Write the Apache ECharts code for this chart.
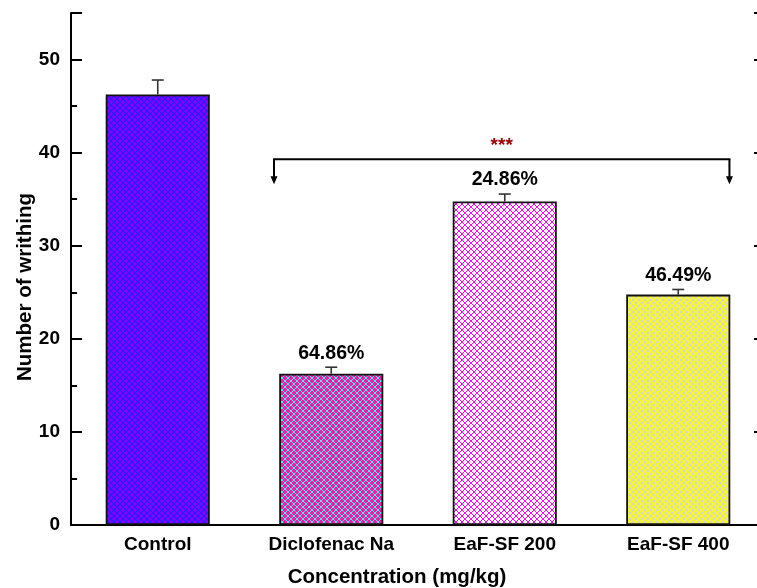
<!DOCTYPE html>
<html>
<head>
<meta charset="utf-8">
<script src="https://cdn.jsdelivr.net/npm/echarts@6/dist/echarts.min.js"></script>
<style>
  html, body { margin: 0; padding: 0; background: #fff; overflow: hidden; }
  #chart { width: 757px; height: 588px; }
</style>
</head>
<body>
<div id="chart"></div>
<script>
// Writhing counts per treatment group (mean, SEM) and inhibition percentages
const categories = ['Control', 'Diclofenac Na', 'EaF-SF 200', 'EaF-SF 400'];
const writhing = [46.25, 16.25, 34.75, 24.75];
const sem = [1.55, 0.7, 0.8, 0.55];
const inhibition = ['', '64.86%', '24.86%', '46.49%'];
const yTicks = [0, 10, 20, 30, 40, 50];

// Significance bracket (category index span, level and arrow tip in y units)
const bracketSpan = [1, 3];
const bracketLevel = 39.3;
const bracketTip = 36.6;
const bracketText = '***';

const FONT = 'Arial, "Liberation Sans", sans-serif';

// Smooth diagonal crosshatch tile
function hatch(bg, fg, lw) {
  const s = 6;
  const c = document.createElement('canvas');
  c.width = s; c.height = s;
  const g = c.getContext('2d');
  if (bg) { g.fillStyle = bg; g.fillRect(0, 0, s, s); }
  g.strokeStyle = fg;
  g.lineWidth = lw;
  g.beginPath();
  g.moveTo(-1, -1); g.lineTo(s + 1, s + 1);
  g.moveTo(s + 1, -1); g.lineTo(-1, s + 1);
  g.stroke();
  return { image: c, repeat: 'repeat' };
}

// Pixel-crisp diagonal crosshatch tile (1px lines)
function hatchCrisp(bg, fg) {
  const s = 6;
  const c = document.createElement('canvas');
  c.width = s; c.height = s;
  const g = c.getContext('2d');
  g.fillStyle = bg; g.fillRect(0, 0, s, s);
  g.fillStyle = fg;
  for (let y = 0; y < s; y++) {
    for (let x = 0; x < s; x++) {
      if ((x - y + s) % s === 0 || (x + y) % s === s - 1) g.fillRect(x, y, 1, 1);
    }
  }
  return { image: c, repeat: 'repeat' };
}

const fills = [
  hatch('#8C00FF', '#1E1EFF', 1.1),
  hatchCrisp('#FF18A0', '#40F0FF'),
  hatchCrisp('#FFFFFF', '#FF00FF'),
  hatch('#D6D6D6', '#FFFF00', 1.4)
];

const chart = echarts.init(document.getElementById('chart'), null, { renderer: 'canvas' });

const option = {
  animation: false,
  backgroundColor: '#fff',
  grid: { left: 71, right: -8, top: 13, bottom: 63, containLabel: false, outerBoundsMode: 'none' },
  xAxis: [{
    type: 'category',
    data: categories,
    position: 'bottom',
    name: 'Concentration (mg/kg)',
    nameLocation: 'middle',
    nameGap: 42,
    nameMoveOverlap: false,
    nameTextStyle: { fontFamily: FONT, fontWeight: 'bold', fontSize: 20.5, color: '#000', padding: [0, 42, 0, 0] },
    axisLine: { show: true, lineStyle: { color: '#000', width: 2 } },
    axisTick: { show: true, inside: true, length: 10, alignWithLabel: true, lineStyle: { color: '#000', width: 2 } },
    axisLabel: { fontFamily: FONT, fontWeight: 'bold', fontSize: 19, color: '#000', margin: 10 },
    splitLine: { show: false }
  }, {
    type: 'category',
    data: categories,
    position: 'top',
    axisLine: { show: true, lineStyle: { color: '#000', width: 2 } },
    axisTick: { show: false },
    axisLabel: { show: false },
    splitLine: { show: false }
  }],
  yAxis: [{
    type: 'value',
    min: 0, max: 55, interval: 10,
    name: 'Number of writhing',
    nameLocation: 'middle',
    nameGap: 35,
    nameMoveOverlap: false,
    nameTextStyle: { fontFamily: FONT, fontWeight: 'bold', fontSize: 20.5, color: '#000', padding: [0, 36, 0, 0] },
    axisLine: { show: true, lineStyle: { color: '#000', width: 2 } },
    axisTick: { show: true, inside: true, length: 11, lineStyle: { color: '#000', width: 2 } },
    minorTick: { show: true, splitNumber: 2, length: 6, lineStyle: { color: '#000', width: 2 } },
    axisLabel: {
      fontFamily: FONT, fontWeight: 'bold', fontSize: 19, color: '#000', margin: 11,
      showMaxLabel: false,
      formatter: v => (yTicks.indexOf(v) >= 0 ? String(v) : '')
    },
    splitLine: { show: false }
  }, {
    type: 'value',
    min: 0, max: 55, interval: 10,
    position: 'right',
    axisLine: { show: true, lineStyle: { color: '#000', width: 2 } },
    axisTick: { show: true, inside: true, length: 11, lineStyle: { color: '#000', width: 2 } },
    axisLabel: { show: false },
    splitLine: { show: false }
  }],
  series: [{
    type: 'bar',
    barWidth: '60%',
    data: writhing.map((v, i) => ({
      value: v,
      itemStyle: { color: fills[i], borderColor: '#111', borderWidth: 1.8 }
    })),
    z: 2
  }, {
    // upper error bars and inhibition labels
    type: 'custom',
    data: writhing.map((v, i) => [i, v, sem[i]]),
    z: 3,
    renderItem: (params, api) => {
      const i = api.value(0);
      const top = api.coord([i, api.value(1)]);
      const hi = api.coord([i, api.value(1) + api.value(2)]);
      const cap = 6;
      const children = [{
        type: 'line',
        shape: { x1: top[0], y1: top[1], x2: hi[0], y2: hi[1] },
        style: { stroke: '#333', lineWidth: 1.6 }
      }, {
        type: 'line',
        shape: { x1: hi[0] - cap, y1: hi[1], x2: hi[0] + cap, y2: hi[1] },
        style: { stroke: '#333', lineWidth: 1.6 }
      }];
      if (inhibition[i]) {
        children.push({
          type: 'text',
          style: {
            x: hi[0], y: hi[1] - 4,
            text: inhibition[i],
            fill: '#000',
            font: 'bold 19.5px ' + FONT,
            align: 'center', verticalAlign: 'bottom'
          }
        });
      }
      return { type: 'group', children };
    }
  }, {
    // significance bracket with arrows down to the compared groups
    type: 'custom',
    data: [[bracketSpan[0], bracketSpan[1], bracketLevel, bracketTip]],
    z: 4,
    renderItem: (params, api) => {
      const band = api.size([1, 0])[0];
      const a = api.coord([api.value(0), api.value(2)]);
      const b = api.coord([api.value(1), api.value(2)]);
      const tip = api.coord([api.value(0), api.value(3)])[1];
      const x1 = a[0] - 0.33 * band;
      const x2 = b[0] + 0.295 * band;
      const y = a[1];
      const ah = 8, aw = 3.5;
      const arrow = (x) => ([{
        type: 'line',
        shape: { x1: x, y1: y, x2: x, y2: tip - ah + 1 },
        style: { stroke: '#000', lineWidth: 2 }
      }, {
        type: 'polygon',
        shape: { points: [[x - aw, tip - ah], [x + aw, tip - ah], [x, tip]] },
        style: { fill: '#000' }
      }]);
      return {
        type: 'group',
        children: [{
          type: 'line',
          shape: { x1: x1 - 1, y1: y, x2: x2 + 1, y2: y },
          style: { stroke: '#000', lineWidth: 2 }
        }].concat(arrow(x1), arrow(x2), [{
          type: 'text',
          style: {
            x: (x1 + x2) / 2, y: y - 13,
            text: bracketText,
            fill: '#9A0000',
            font: 'bold 19px ' + FONT,
            align: 'center', verticalAlign: 'middle'
          }
        }])
      };
    }
  }]
};

chart.setOption(option);
</script>
</body>
</html>
